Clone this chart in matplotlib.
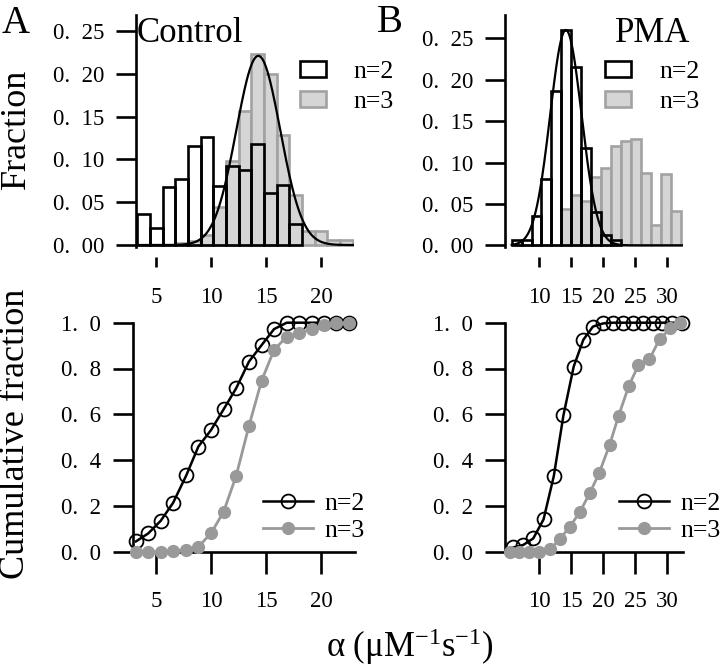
import numpy as np
import matplotlib.pyplot as plt
from matplotlib.patches import Patch
from matplotlib.lines import Line2D

plt.rcParams['font.family'] = ['Liberation Serif', 'DejaVu Serif']
plt.rcParams['mathtext.fontset'] = 'custom'
plt.rcParams['mathtext.rm'] = 'Liberation Serif'
plt.rcParams['mathtext.it'] = 'Liberation Serif:italic'

# --- histogram data (Fraction) ---
ctrl_start, ctrl_width = 3.30, 1.151
ctrl_n2 = [0.036, 0.020, 0.068, 0.077, 0.116, 0.126, 0.069, 0.092, 0.088,
           0.118, 0.061, 0.070, 0.025]
ctrl_n3 = [0.0, 0.0, 0.0, 0.002, 0.005, 0.012, 0.045, 0.098, 0.157, 0.223,
           0.200, 0.128, 0.058, 0.016, 0.016, 0.006, 0.006]
ctrl_fit = dict(amp=0.221, mu=14.3, sigma=2.0)

pma_start, pma_width = 5.73, 1.553
pma_n2 = [0.007, 0.007, 0.035, 0.080, 0.186, 0.260, 0.215, 0.117, 0.040,
          0.012, 0.006]
pma_n3 = [0.0, 0.0, 0.0, 0.0, 0.0, 0.044, 0.061, 0.053, 0.082, 0.093, 0.120,
          0.126, 0.128, 0.087, 0.025, 0.086, 0.041]
pma_fit = dict(amp=0.26, mu=14.2, sigma=2.45)

# --- cumulative data ---
ctrl_cum_x = [3.18, 4.30, 5.43, 6.55, 7.75, 8.85, 10.0, 11.15, 12.28, 13.45,
              14.6, 15.73, 16.88, 18.03, 19.15, 20.27, 21.4, 22.5]
ctrl_cum_n2 = [0.045, 0.08, 0.135, 0.213, 0.333, 0.459, 0.531, 0.622, 0.713,
               0.83, 0.902, 0.972, 1.0, 1.0, 1.0, 1.0, 1.0, 1.0]
ctrl_cum_n3 = [0.0, 0.0, 0.0, 0.002, 0.008, 0.022, 0.08, 0.175, 0.33, 0.549,
               0.747, 0.881, 0.939, 0.954, 0.972, 0.988, 0.997, 1.0]

pma_cum_x2 = [6.0, 7.5, 9.1, 10.7, 12.3, 13.8, 15.4, 16.9, 18.4, 20.0, 21.5,
              23.1, 24.6, 26.2, 27.7, 29.2, 30.8, 32.3]
pma_cum_n2 = [0.019, 0.029, 0.058, 0.141, 0.33, 0.595, 0.808, 0.925, 0.983,
              0.997, 1.0, 1.0, 1.0, 1.0, 1.0, 1.0, 1.0, 1.0]
pma_cum_x3 = [5.5, 6.9, 8.5, 10.05, 11.7, 13.2, 14.8, 16.4, 17.9, 19.4, 21.0,
              22.4, 24.0, 25.5, 27.2, 28.8, 30.5, 32.0]
pma_cum_n3 = [0.0, 0.0, 0.0, 0.0, 0.01, 0.054, 0.109, 0.175, 0.255, 0.345,
              0.466, 0.593, 0.724, 0.815, 0.84, 0.928, 0.976, 0.997]

frac_ticks = [0.0, 0.05, 0.10, 0.15, 0.20, 0.25]
frac_labels = ['0.  00', '0.  05', '0.  10', '0.  15', '0.  20', '0.  25']
cum_ticks = [0.0, 0.2, 0.4, 0.6, 0.8, 1.0]
cum_labels = ['0.  0', '0.  2', '0.  4', '0.  6', '0.  8', '1.  0']
ctrl_xticks = [5, 10, 15, 20]
pma_xticks = [10, 15, 20, 25, 30]

GRAY_FILL = '#d5d5d5'
GRAY_EDGE = '#a2a2a2'
GRAY = '#999999'
LW = 1.9
TICKFS = 16.5

W, H = 720, 668
fig = plt.figure(figsize=(W / 100, H / 100), dpi=100)


def axes_px(x0, x1, ytop, ybot):
    return fig.add_axes([x0 / W, 1 - ybot / H, (x1 - x0) / W, (ybot - ytop) / H])


def style_y(ax):
    for s in ['top', 'right']:
        ax.spines[s].set_visible(False)
    ax.spines['left'].set_linewidth(LW)
    ax.spines['bottom'].set_linewidth(LW)
    ax.tick_params(axis='y', length=14.5, width=LW, pad=8.5, labelsize=TICKFS)


def hist_panel(x0, x1, start, width, n2, n3, fit, xlim, ylim, xticks):
    ax = axes_px(x0, x1, 15, 247)
    e3 = start + width * np.arange(len(n3))
    e2 = start + width * np.arange(len(n2))
    ax.bar(e3, n3, width=width, align='edge', color=GRAY_FILL,
           edgecolor=GRAY_EDGE, linewidth=LW)
    ax.bar(e2, n2, width=width, align='edge', facecolor='none',
           edgecolor='black', linewidth=LW)
    xs = np.linspace(start, xlim[1], 400)
    ax.plot(xs, fit['amp'] * np.exp(-(xs - fit['mu']) ** 2 / (2 * fit['sigma'] ** 2)),
            color='black', lw=1.6)
    ax.set_xlim(*xlim)
    ax.set_ylim(*ylim)
    ax.set_yticks(frac_ticks)
    ax.set_yticklabels(frac_labels)
    style_y(ax)
    ax.spines['bottom'].set_visible(False)
    ax.tick_params(axis='x', bottom=False, labelbottom=False)
    # detached x ticks, hanging a little below the histogram baseline
    axt = fig.add_axes([x0 / W, 1 - 257 / H, (x1 - x0) / W, 0.0001])
    axt.set_xlim(*xlim)
    axt.set_xticks(xticks)
    axt.set_yticks([])
    for s in axt.spines.values():
        s.set_visible(False)
    axt.patch.set_visible(False)
    axt.tick_params(axis='x', length=7.5, width=LW, pad=14, labelsize=TICKFS)
    return ax


def cum_panel(x0, x1, x2, y2, x3, y3, xlim, xticks):
    ax = axes_px(x0, x1, 322.7, 551.7)
    ax.plot(x2, y2, color='black', lw=1.8, marker='o', ms=10, mfc='none',
            mec='black', mew=1.3, clip_on=False, zorder=3)
    ax.plot(x3, y3, color=GRAY, lw=2.0, marker='o', ms=8.5, mfc=GRAY,
            mec=GRAY, clip_on=False, zorder=4)
    ax.set_xlim(*xlim)
    ax.set_ylim(0, 1)
    ax.set_xticks(xticks)
    ax.set_yticks(cum_ticks)
    ax.set_yticklabels(cum_labels)
    style_y(ax)
    ax.tick_params(axis='x', length=15.5, width=LW, pad=12.5, labelsize=TICKFS)
    return ax


ax1 = hist_panel(136, 354, ctrl_start, ctrl_width, ctrl_n2, ctrl_n3, ctrl_fit,
                 (3.18, 23.0), (-0.0023, 0.2687), ctrl_xticks)
ax2 = hist_panel(505, 683, pma_start, pma_width, pma_n2, pma_n3, pma_fit,
                 (4.69, 32.5), (-0.002, 0.2781), pma_xticks)
ax3 = cum_panel(133, 355, ctrl_cum_x, ctrl_cum_n2, ctrl_cum_x, ctrl_cum_n3,
                (2.91, 23.09), ctrl_xticks)
ax4 = cum_panel(505, 683, pma_cum_x2, pma_cum_n2, pma_cum_x3, pma_cum_n3,
                (4.69, 32.45), pma_xticks)

# legends
bar_handles = [Patch(facecolor='white', edgecolor='black', lw=LW, label='n=2'),
               Patch(facecolor=GRAY_FILL, edgecolor=GRAY_EDGE, lw=LW, label='n=3')]
for ax, x in [(ax1, 0.752), (ax2, 0.562)]:
    ax.legend(handles=bar_handles, frameon=False, loc='upper left',
              bbox_to_anchor=(x, 0.80), borderaxespad=0, borderpad=0,
              handlelength=1.0, handleheight=0.58, handletextpad=1.1,
              labelspacing=0.3, fontsize=18.5)

line_handles = [Line2D([], [], color='black', lw=1.8, marker='o', ms=10,
                       mfc='none', mec='black', mew=1.3, label='n=2'),
                Line2D([], [], color=GRAY, lw=2.0, marker='o', ms=8.5,
                       mfc=GRAY, mec=GRAY, label='n=3')]
for ax, x in [(ax3, 0.586), (ax4, 0.64)]:
    ax.legend(handles=line_handles, frameon=False, loc='upper left',
              bbox_to_anchor=(x, 0.26), borderaxespad=0, borderpad=0,
              handlelength=1.95, handletextpad=0.45, labelspacing=0.15,
              fontsize=18.5)

# texts
fig.text(2 / W, 1 - 33 / H, 'A', fontsize=28, va='baseline')
fig.text(377 / W, 1 - 32 / H, 'B', fontsize=28, va='baseline')
fig.text(137 / W, 1 - 42 / H, 'Control', fontsize=25, va='baseline')
fig.text(615 / W, 1 - 42 / H, 'PMA', fontsize=25, va='baseline')
fig.text(16 / W, 1 - 129 / H, 'Fraction', fontsize=26, rotation=90,
         ha='center', va='center')
fig.text(16 / W, 1 - 434 / H, 'Cumulative fraction', fontsize=26, rotation=90,
         ha='center', va='center')
fig.text(410 / W, 1 - 657 / H, r'α (μM$^{-1}$s$^{-1}$)', fontsize=25,
         ha='center', va='baseline')

fig.savefig('out.png', dpi=100)
